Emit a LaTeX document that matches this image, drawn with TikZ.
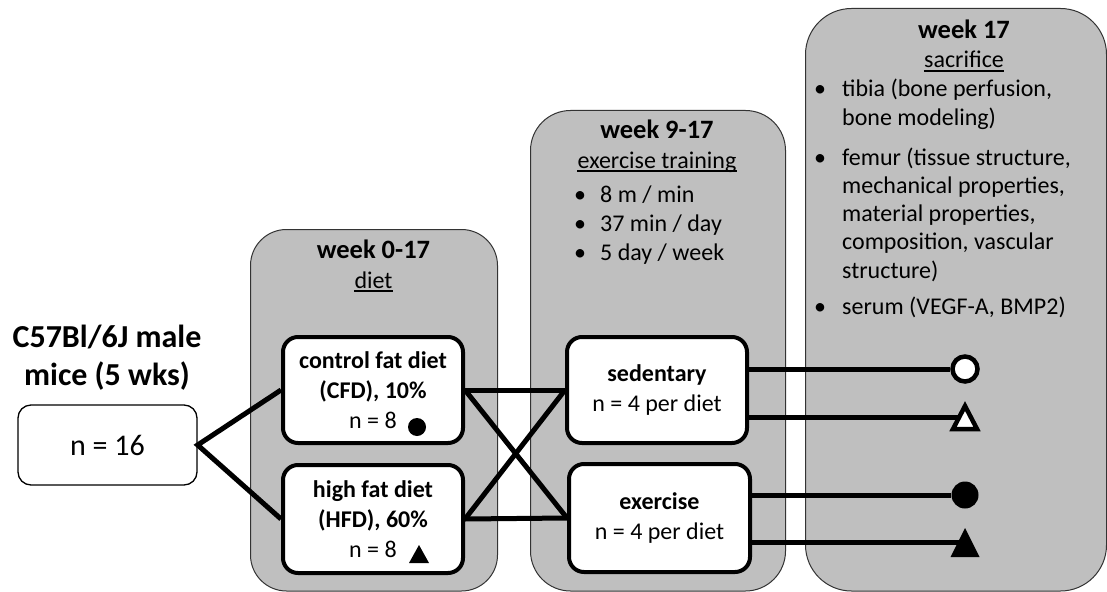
\documentclass[tikz,border=0pt]{standalone}
\usepackage{fontspec}
\setmainfont{Carlito}
\definecolor{panelgray}{RGB}{191,191,191}
\begin{document}
\begin{tikzpicture}[x=1pt,y=-1pt,
  panel/.style={draw=black!80, line width=1pt, fill=panelgray, inner sep=0pt, anchor=north west},
  wbox/.style={draw=black, line width=4pt, fill=white, rounded corners=15pt, minimum width=180pt, minimum height=106pt, align=center, inner sep=0pt, font=\fontsize{24}{30}\selectfont},
  head/.style={font=\fontsize{26.5}{30}\selectfont\bfseries, inner sep=0pt, anchor=base},
  sub/.style={font=\fontsize{24}{28}\selectfont, inner sep=0pt, anchor=base},
  txt/.style={font=\fontsize{24}{28.3}\selectfont, inner sep=0pt, anchor=base west, align=left},
  bul/.style={font=\fontsize{24}{28}\selectfont, inner sep=0pt, anchor=base},
  conn/.style={line width=5pt, line join=miter},
  uline/.style={line width=1.3pt}
]
\clip (0,0) rectangle (1107,591);
% panels
\node[panel, rounded corners=36pt, minimum width=247pt, minimum height=361.5pt] (p1) at (250,229) {};
\node[panel, rounded corners=40pt, minimum width=255pt, minimum height=480.5pt] (p2) at (530,110) {};
\node[panel, rounded corners=46pt, minimum width=301pt, minimum height=582.5pt] (p3) at (805,8) {};

% title and start box (base anchor = last line)
\node[font=\fontsize{32}{38}\selectfont\bfseries, align=center, inner sep=0pt, anchor=base] (title) at (107,385) {C57Bl/6J male\\mice (5 wks)};
\node[draw=black, line width=1.3pt, fill=white, rounded corners=13pt, minimum width=179pt, minimum height=80pt, inner sep=0pt, font=\fontsize{30}{36}\selectfont] (n16) at (107.5,445) {n = 16};

% panel 1
\node[head] (h1) at (373.5,258) {week 0-17};
\node[sub] (s1) at (373.5,288) {diet};
\draw[uline] ([yshift=-3pt]s1.base west) -- ([yshift=-3pt]s1.base east);

% panel 2
\node[head] (h2) at (657,139) {week 9-17};
\node[sub] (s2) at (657,168) {exercise training};
\draw[uline] ([yshift=-3pt]s2.base west) -- ([yshift=-3pt]s2.base east);
\node[bul] (b21) at (580,202) {•};
\node[txt] (t21) at (600,202) {8 m / min};
\node[bul] (b22) at (580,231) {•};
\node[txt] (t22) at (600,231) {37 min / day};
\node[bul] (b23) at (580,260) {•};
\node[txt] (t23) at (600,260) {5 day / week};

% panel 3 (multi-line nodes: base anchor = last line)
\node[head] (h3) at (964,39) {week 17};
\node[sub] (s3) at (964,68) {sacrifice};
\draw[uline] ([yshift=-3pt]s3.base west) -- ([yshift=-3pt]s3.base east);
\node[bul] (b31) at (820,97) {•};
\node[txt] (t31) at (842,125.3) {tibia (bone perfusion,\\bone modeling)};
\node[bul] (b32) at (820,165) {•};
\node[txt] (t32) at (842,278.2) {femur (tissue structure,\\mechanical properties,\\material properties,\\composition, vascular\\structure)};
\node[bul] (b33) at (820,314) {•};
\node[txt] (t33) at (842,314) {serum (VEGF-A, BMP2)};

% group boxes
\node[wbox] (cfd) at (373,390) {\textbf{control fat diet}\\\textbf{(CFD), 10\%}\\n = 8};
\node[wbox, minimum height=108pt] (hfd) at (373,519) {\textbf{high fat diet}\\\textbf{(HFD), 60\%}\\n = 8};
\node[wbox] (sed) at (657,390) {\textbf{sedentary}\\n = 4 per diet};
\node[wbox, minimum width=181pt, minimum height=108pt] (ex) at (659.5,518) {\textbf{exercise}\\n = 4 per diet};

% markers in diet boxes
\node[circle, fill=black, minimum size=18pt, inner sep=0pt] (cfdm) at (417,427) {};
\coordinate (hfdm) at (419,555);
\fill ([shift={(0,-10)}]hfdm) -- ([shift={(10,8)}]hfdm) -- ([shift={(-10,8)}]hfdm) -- cycle;

% connectors
\draw[conn] (cfd.west) -- (n16.east) -- (hfd.west);
\draw[conn] (cfd.east) -- (sed.west);
\draw[conn] (cfd.east) -- (ex.west);
\draw[conn] (hfd.east) -- (sed.west);
\draw[conn] (hfd.east) -- (ex.west);

% end markers
\node[circle, draw=black, line width=4.5pt, fill=white, minimum size=25pt, inner sep=0pt] (oc) at (965,369) {};
\coordinate (ot) at (965,417);
\node[circle, fill=black, minimum size=27pt, inner sep=0pt] (fc) at (965,495) {};
\coordinate (ft) at (965,542);
\draw[conn] (sed.east |- oc) -- (oc);
\draw[conn] (sed.east |- ot) -- (ot);
\draw[conn] (ex.east |- fc) -- (fc);
\draw[conn] (ex.east |- ft) -- (ft);
\draw[line width=4.5pt, fill=white, line join=miter] ([shift={(0,-11)}]ot) -- ([shift={(12,12)}]ot) -- ([shift={(-12,12)}]ot) -- cycle;
\fill ([shift={(0,-14)}]ft) -- ([shift={(14.5,15)}]ft) -- ([shift={(-14.5,15)}]ft) -- cycle;
\end{tikzpicture}
\end{document}
